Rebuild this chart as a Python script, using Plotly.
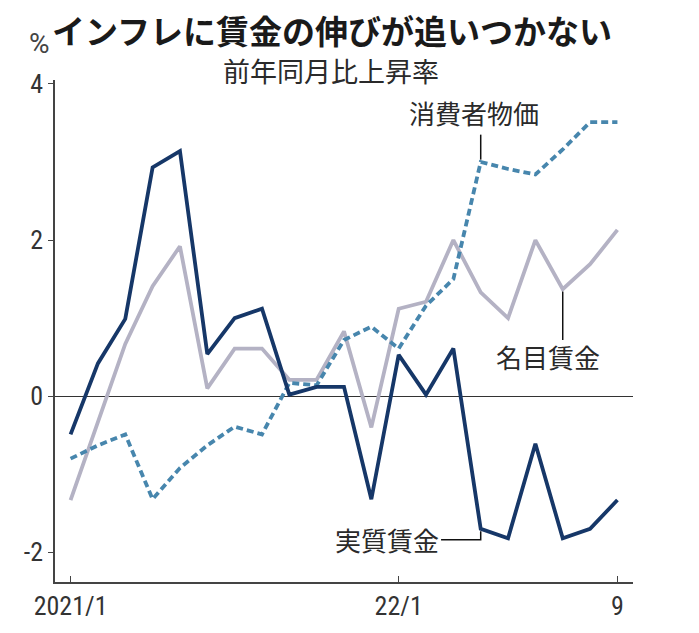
import plotly.graph_objects as go

months = list(range(21))  # 2021/1 .. 2022/9
tick_vals = [0, 12, 20]
tick_text = ["2021/1", "22/1", "9"]

real_wage = [-0.49, 0.42, 0.99, 2.93, 3.14, 0.54, 1.0, 1.12, 0.02, 0.12, 0.12,
             -1.32, 0.53, 0.02, 0.61, -1.70, -1.82, -0.61, -1.82, -1.70, -1.33]
nominal_wage = [-1.33, -0.32, 0.67, 1.41, 1.92, 0.1, 0.61, 0.61, 0.21, 0.21, 0.83,
                -0.40, 1.12, 1.21, 2.0, 1.33, 1.0, 2.0, 1.37, 1.69, 2.13]
cpi = [-0.80, -0.63, -0.49, -1.32, -0.92, -0.63, -0.39, -0.49, 0.17, 0.14, 0.72,
       0.89, 0.61, 1.16, 1.5, 3.0, 2.91, 2.84, 3.16, 3.51, 3.51]

NAVY = "#163768"
GRAY = "#b4b2c4"
BLUE = "#4786ad"
TXT = "#2a2a2a"
JP = "Noto Sans CJK JP"
NUM = "Liberation Sans Narrow, Roboto Condensed, Roboto, sans-serif"

fig = go.Figure()
fig.add_trace(go.Scatter(x=months, y=nominal_wage, mode="lines",
                         line=dict(color=GRAY, width=3.8), name="名目賃金"))
fig.add_trace(go.Scatter(x=months, y=cpi, mode="lines",
                         line=dict(color=BLUE, width=3.8, dash="7px,4px"), name="消費者物価"))
fig.add_trace(go.Scatter(x=months, y=real_wage, mode="lines",
                         line=dict(color=NAVY, width=3.8), name="実質賃金"))

# leader lines
fig.add_shape(type="line", x0=15, x1=15, y0=cpi[15] + 0.03, y1=3.35,
              line=dict(color="#111", width=1.5))
fig.add_shape(type="line", x0=18, x1=18, y0=nominal_wage[18] - 0.03, y1=0.72,
              line=dict(color="#111", width=1.5))
fig.add_shape(type="path",
              path=f"M 13.55,-1.84 L 15,-1.84 L 15,{real_wage[15]-0.03}",
              line=dict(color="#111", width=1.5))

ann_font = dict(family=JP, size=26, color=TXT)
annotations = [
    dict(x=14.76, y=3.63, xref="x", yref="y", text="消費者物価", showarrow=False,
         font=ann_font, xanchor="center", yanchor="middle"),
    dict(x=17.46, y=0.51, xref="x", yref="y", text="名目賃金", showarrow=False,
         font=ann_font, xanchor="center", yanchor="middle"),
    dict(x=13.55, y=-1.84, xref="x", yref="y", text="実質賃金", showarrow=False,
         font=ann_font, xanchor="right", yanchor="middle"),
    dict(x=0.479, y=1.1, xref="paper", yref="paper",
         text="<b>インフレに賃金の伸びが追いつかない</b>", showarrow=False,
         font=dict(family=JP, size=33, color="#1a1a1a"), xanchor="center", yanchor="middle"),
    dict(x=0.478, y=1.018, xref="paper", yref="paper", text="前年同月比上昇率",
         showarrow=False, font=dict(family=JP, size=27, color=TXT),
         xanchor="center", yanchor="middle"),
    dict(x=-0.027, y=1.072, xref="paper", yref="paper", text="%",
         showarrow=False, font=dict(family="Roboto", size=28, color="#444"),
         xanchor="center", yanchor="middle"),
]

fig.update_layout(
    width=699, height=633,
    margin=dict(l=55, r=66, t=80, b=45),
    paper_bgcolor="white", plot_bgcolor="white",
    showlegend=False,
    annotations=annotations,
    xaxis=dict(range=[-0.57, 20.57], tickvals=tick_vals, ticktext=tick_text,
               showgrid=False, zeroline=False, showline=True, linecolor="#444",
               linewidth=1.5, ticks="inside", ticklen=6, tickcolor="#444",
               tickfont=dict(family=NUM, size=26, color="#333")),
    yaxis=dict(range=[-2.38, 4.05], tickvals=[-2, 0, 2, 4], ticktext=["-2", "0", "2", "4"],
               showgrid=False, zeroline=True, zerolinecolor="#333", zerolinewidth=1.2,
               showline=True, linecolor="#444", linewidth=1.5, ticks="outside",
               ticklen=5, tickcolor="#444",
               tickfont=dict(family=NUM, size=26, color="#333")),
)

fig.write_html("out.html")
